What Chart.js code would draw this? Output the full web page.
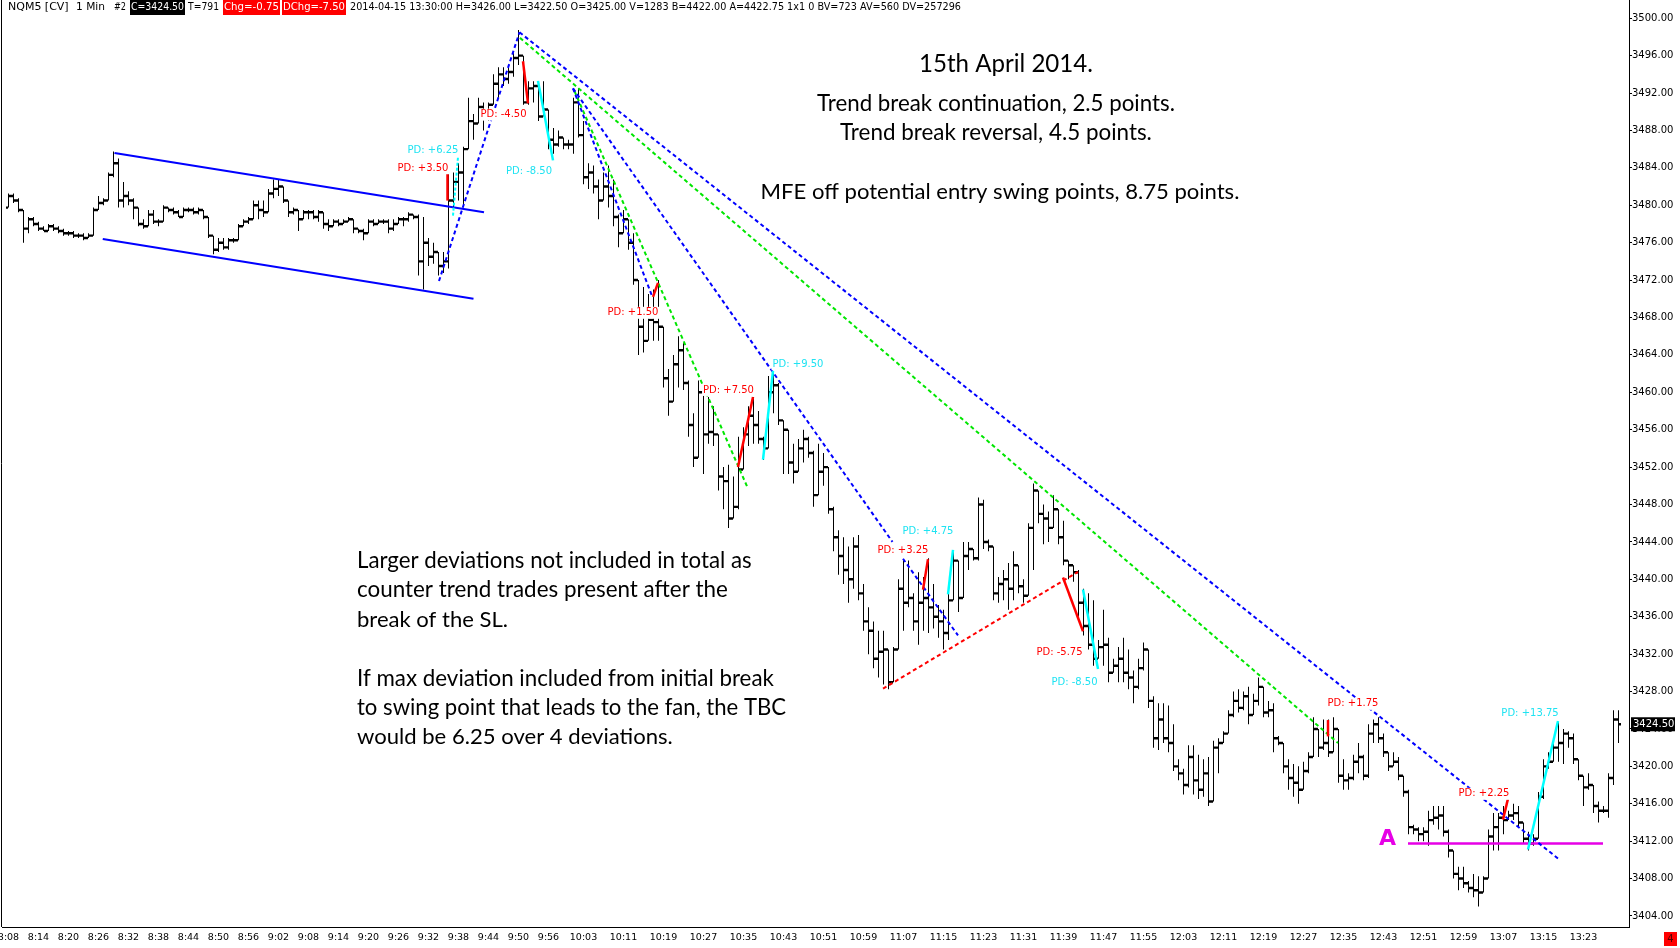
<!DOCTYPE html>
<html>
<head>
<meta charset="utf-8">
<title>NQM5 [CV] 1 Min</title>
<script src="https://cdn.jsdelivr.net/npm/chart.js"></script>
<style>
  html, body { margin: 0; padding: 0; background: #fff; }
  #wrap { position: relative; width: 1680px; height: 948px; }
</style>
</head>
<body>
<div id="wrap"><canvas id="nqChart"></canvas></div>
<script>
// one bar per minute, starting 8:08
var startTime = '8:08';

var opens = [
  3479.75, 3481, 3480.5, 3479.5, 3477.5, 3478.5, 3478, 3477.5, 3477.25, 3477.75,
  3477.5, 3477.25, 3477, 3477, 3476.75, 3476.75, 3476.5, 3476.75, 3479.5, 3480.25,
  3480.5, 3483.25, 3484.5, 3480.5, 3481, 3480.5, 3479.75, 3478, 3477.75, 3479,
  3478.25, 3478.25, 3479.75, 3479.5, 3479.25, 3478.75, 3479.5, 3479.5, 3479.25, 3479.5,
  3478.75, 3476.75, 3475.25, 3476, 3475.5, 3476.25, 3476.25, 3477.75, 3478.25, 3478.5,
  3480, 3479.5, 3479.25, 3481.25, 3481.75, 3482, 3480.5, 3479.25, 3479.5, 3478.5,
  3479.25, 3479.25, 3478.75, 3479.25, 3478, 3477.75, 3478.25, 3478, 3478.25, 3478.5,
  3477.5, 3477.25, 3477, 3478.25, 3478, 3478.25, 3478.25, 3477.5, 3478, 3478.5,
  3478.5, 3479, 3478.75, 3474, 3476, 3474.5, 3475, 3473.5, 3474, 3480.5,
  3482.5, 3483.5, 3486, 3489, 3488.75, 3490.5, 3489.5, 3490.75, 3493, 3494,
  3493.5, 3494.25, 3495.75, 3496, 3491, 3492.5, 3492.75, 3489.5, 3490.25, 3487,
  3486.5, 3487.25, 3486.5, 3486.5, 3491, 3487.5, 3483, 3483.5, 3482, 3480.5,
  3482, 3481, 3478.75, 3477, 3478.5, 3476, 3472, 3467, 3465.5, 3467.75,
  3467.5, 3467, 3461.5, 3459, 3463, 3464.5, 3461, 3456.5, 3453, 3460,
  3455.5, 3455.75, 3455.5, 3451, 3450.5, 3446.5, 3447.75, 3451.75, 3455.5, 3457.5,
  3456.5, 3455, 3454, 3460, 3460.75, 3457, 3456, 3452.5, 3451.5, 3454,
  3455, 3453.5, 3449, 3451.5, 3452, 3447.5, 3444.5, 3442.5, 3441, 3440,
  3443.5, 3438.5, 3435.5, 3434.5, 3431.5, 3432.25, 3432.5, 3429, 3432.5, 3439,
  3437.5, 3438, 3435.5, 3437.5, 3438, 3437, 3436, 3435.5, 3434.25, 3437.75,
  3442, 3438, 3442.5, 3443.25, 3442.25, 3448, 3444, 3443.5, 3438.5, 3439.5,
  3440, 3439, 3441.5, 3439.25, 3438.25, 3445.5, 3449.5, 3447, 3446.5, 3445.5,
  3447.5, 3444.5, 3442, 3441.5, 3440.75, 3437.5, 3435, 3433, 3431.5, 3432.75,
  3433, 3430, 3430.75, 3431.5, 3430, 3429.5, 3428.5, 3430.5, 3432.5, 3427,
  3423, 3425, 3423, 3422.5, 3420, 3419.25, 3418, 3421, 3418.5, 3417.5,
  3419.25, 3416.25, 3422, 3422.5, 3423.5, 3425.5, 3427, 3426.25, 3427.5, 3425.5,
  3427, 3428.5, 3425.75, 3426, 3423, 3422.5, 3420, 3418.75, 3418.25, 3417.5,
  3419.5, 3421, 3424, 3422, 3422.5, 3421.5, 3424, 3419, 3418.5, 3418.75,
  3420.5, 3421, 3419, 3423.5, 3424.5, 3423, 3421.5, 3420, 3420.5, 3419,
  3417.25, 3413.5, 3413.25, 3412.75, 3413, 3414.25, 3414.5, 3414.75, 3413, 3411,
  3408.5, 3408, 3407.5, 3407, 3406.75, 3406.5, 3408, 3412.5, 3413.5, 3414.5,
  3414.25, 3414.75, 3415, 3414, 3412.25, 3411.75, 3412.25, 3416.75, 3420, 3420.5,
  3422, 3422.5, 3423.5, 3423, 3420.75, 3419, 3417.75, 3418, 3415.75, 3415.25,
  3415.25, 3418.75, 3425
];

var highs = [
  3481.25, 3481.25, 3480.75, 3479.5, 3478.75, 3478.75, 3478.25, 3477.75, 3478, 3478,
  3477.75, 3477.5, 3477.25, 3477.25, 3477, 3477, 3477, 3479.75, 3481, 3480.75,
  3483.5, 3485.75, 3485, 3482.5, 3481.5, 3480.75, 3479.75, 3478.5, 3479.5, 3479.5,
  3478.5, 3480, 3479.75, 3479.75, 3479.5, 3479.75, 3479.75, 3479.75, 3479.75, 3479.5,
  3478.75, 3476.75, 3476.5, 3476.5, 3476.5, 3476.5, 3478, 3478.5, 3478.75, 3480.5,
  3480.5, 3480.5, 3481.75, 3482.75, 3482.75, 3482, 3480.5, 3479.75, 3479.5, 3479.5,
  3479.5, 3479.5, 3479.5, 3479.25, 3478.5, 3478.5, 3478.5, 3478.5, 3478.75, 3478.5,
  3477.5, 3477.5, 3478.5, 3478.5, 3478.5, 3478.5, 3478.5, 3478.5, 3478.75, 3478.75,
  3479.25, 3479, 3479, 3478.75, 3476.5, 3476, 3475, 3475, 3484, 3483.5,
  3484.5, 3486.25, 3491.5, 3489.75, 3491.5, 3491, 3491, 3494, 3494.75, 3494.75,
  3494.75, 3496.25, 3498.75, 3496, 3493.25, 3493.25, 3493.25, 3493.25, 3490.25, 3488.25,
  3488, 3487.25, 3487, 3491.5, 3492.5, 3489, 3484.5, 3484.25, 3482.75, 3483.5,
  3484.25, 3482.75, 3479, 3479.5, 3478.5, 3477, 3472, 3471.25, 3470.5, 3471,
  3472, 3467, 3462.5, 3464, 3466, 3465.25, 3461.25, 3457.75, 3461.25, 3460,
  3459.5, 3458.5, 3455.5, 3452, 3452.25, 3451, 3455.25, 3456.25, 3458.5, 3459.5,
  3458, 3455.25, 3461.75, 3462.25, 3461, 3457, 3456, 3454.5, 3455, 3456,
  3455.25, 3453.75, 3454.5, 3453.5, 3452, 3447.75, 3445.25, 3444.5, 3443.5, 3444.5,
  3444.75, 3439.5, 3437, 3435.5, 3434.5, 3434.5, 3432.5, 3432.75, 3440, 3442,
  3442, 3438.5, 3440.75, 3440.25, 3442.25, 3439.5, 3437.25, 3436.75, 3438.5, 3443,
  3442, 3444, 3444, 3443.25, 3448.75, 3448.5, 3444.25, 3443.5, 3440.25, 3441,
  3441.75, 3443, 3441.5, 3440, 3446, 3450.25, 3449.5, 3448, 3447.25, 3449,
  3447.5, 3446.25, 3442, 3441.5, 3441, 3439, 3438.5, 3437.75, 3433.5, 3436.75,
  3433.75, 3431.5, 3432.75, 3433.75, 3432.5, 3430.25, 3431.5, 3433.25, 3432.5, 3427.5,
  3426.75, 3426.75, 3426.5, 3424.5, 3420.75, 3419.75, 3422.25, 3422.25, 3421.25, 3420.75,
  3421, 3422.75, 3423, 3423.75, 3426, 3428, 3428.25, 3428, 3428.5, 3427.75,
  3429.5, 3428.5, 3427, 3426.75, 3423.25, 3422.5, 3420.75, 3420.25, 3420, 3420.5,
  3421.5, 3425.25, 3424, 3425, 3425, 3425.25, 3424, 3420.75, 3419.25, 3421.25,
  3422.5, 3421.25, 3424.5, 3425, 3425.25, 3423.5, 3421.5, 3421.5, 3421, 3419,
  3417.5, 3413.75, 3413.5, 3413.5, 3415.25, 3415.75, 3415.75, 3415.75, 3413.25, 3411,
  3409.25, 3409.25, 3407.75, 3408.5, 3408.25, 3408.25, 3413.25, 3415, 3415, 3415.75,
  3415.25, 3416, 3415.75, 3414, 3413, 3412.75, 3417.25, 3420.75, 3421.5, 3422.75,
  3424.75, 3424, 3423.75, 3423.5, 3420.75, 3419, 3419.25, 3418, 3416.25, 3415.75,
  3419.25, 3426, 3426
];

var lows = [
  3479.75, 3480.25, 3479.25, 3476, 3477, 3477.75, 3477.25, 3477.25, 3477.25, 3477.25,
  3477, 3476.75, 3476.75, 3476.5, 3476.5, 3476.25, 3476.5, 3476.75, 3479.5, 3480,
  3480.5, 3483, 3479.75, 3479.75, 3480, 3478.5, 3477.75, 3477.5, 3477.75, 3478,
  3477.75, 3478.25, 3479.25, 3479, 3478.75, 3478.75, 3479.25, 3479, 3479, 3478.5,
  3476.5, 3474.75, 3475, 3475.25, 3475.25, 3476, 3476.25, 3477.75, 3478, 3478.5,
  3478.5, 3478.75, 3479.25, 3480.75, 3481, 3480.25, 3478.75, 3479, 3477.25, 3478.5,
  3478.5, 3478.5, 3478.25, 3477.5, 3477.25, 3477.75, 3477.75, 3478, 3478.25, 3477,
  3477, 3476.25, 3477, 3477.75, 3478, 3478, 3477, 3477.25, 3478, 3477.75,
  3478.25, 3478.5, 3472.5, 3471, 3473.5, 3473.75, 3472.5, 3472.75, 3473.25, 3479.5,
  3480.5, 3480, 3486, 3487, 3488.75, 3488, 3489, 3490.75, 3491.5, 3492.75,
  3493, 3493.75, 3495, 3490.75, 3490.75, 3491, 3489, 3489.5, 3486, 3485.5,
  3486.25, 3486, 3486, 3485.5, 3487.25, 3482.25, 3481.75, 3481.25, 3478.5, 3480.5,
  3479.75, 3477.75, 3475.5, 3477, 3475.25, 3471.5, 3464, 3464.25, 3465.5, 3465.5,
  3465.5, 3460.5, 3457.5, 3459, 3460.5, 3460.25, 3455.25, 3452, 3453, 3451.25,
  3454.5, 3454.25, 3449.5, 3447.5, 3445.5, 3446.5, 3447.5, 3451.75, 3454.25, 3454.5,
  3454.5, 3452.75, 3454, 3457.75, 3456.5, 3451.25, 3451.25, 3450.25, 3451.5, 3452.5,
  3453, 3447.75, 3449, 3450, 3447, 3443, 3440.5, 3439.5, 3437.5, 3439,
  3437.75, 3434.5, 3432, 3430.5, 3429.5, 3428.75, 3428.25, 3429, 3432.5, 3434.5,
  3437, 3434.5, 3433, 3434.5, 3434.25, 3434.75, 3433.75, 3432.5, 3433.5, 3437.75,
  3436.5, 3438, 3441, 3442, 3442, 3443.25, 3443, 3437.75, 3437.5, 3437.75,
  3436.75, 3437.75, 3438.5, 3437.5, 3438.25, 3441, 3446, 3443.75, 3444, 3445.5,
  3443.75, 3441.5, 3440, 3439.75, 3436, 3434, 3432.5, 3430.75, 3431.5, 3430.75,
  3429, 3430, 3429, 3429, 3428.25, 3426.75, 3428.25, 3430.25, 3426.25, 3422,
  3421.75, 3422.5, 3421.5, 3419.5, 3418.5, 3417, 3417.75, 3417, 3416.5, 3416.75,
  3415.75, 3416.25, 3419.25, 3422.5, 3423.5, 3425.25, 3425.75, 3426, 3424.5, 3425.5,
  3426.5, 3425.25, 3425.25, 3421.5, 3422.25, 3419.25, 3417.5, 3416.75, 3416, 3417.5,
  3419.25, 3421, 3421, 3421.75, 3421, 3421.5, 3418.25, 3417.5, 3417.5, 3418.5,
  3419.25, 3418.5, 3418.75, 3422.5, 3422.5, 3421, 3419.5, 3420, 3418.5, 3416.75,
  3412.75, 3412.75, 3412, 3412, 3411.5, 3413.75, 3413.25, 3412.5, 3410.25, 3408,
  3406.75, 3407, 3406.5, 3406, 3405, 3406.5, 3408, 3411, 3411, 3412.75,
  3414.25, 3414.25, 3413.5, 3411.75, 3411, 3411.5, 3412.25, 3416.5, 3419.75, 3420.5,
  3420.5, 3420.25, 3422, 3420.25, 3418.5, 3415.75, 3417.5, 3415, 3414, 3415,
  3414.5, 3418, 3422.5
];

var closes = [
  3481, 3480.5, 3479.5, 3477.5, 3478.5, 3478, 3477.5, 3477.25, 3477.75, 3477.5,
  3477.25, 3477, 3477, 3476.75, 3476.75, 3476.5, 3476.75, 3479.5, 3480.25, 3480.5,
  3483.25, 3484.5, 3480.5, 3481, 3480.5, 3479.75, 3478, 3477.75, 3479, 3478.25,
  3478.25, 3479.75, 3479.5, 3479.25, 3478.75, 3479.5, 3479.5, 3479.25, 3479.5, 3478.75,
  3476.75, 3475.25, 3476, 3475.5, 3476.25, 3476.25, 3477.75, 3478.25, 3478.5, 3480,
  3479.5, 3479.25, 3481.25, 3481.75, 3482, 3480.5, 3479.25, 3479.5, 3478.5, 3479.25,
  3479.25, 3478.75, 3479.25, 3478, 3477.75, 3478.25, 3478, 3478.25, 3478.5, 3477.5,
  3477.25, 3477, 3478.25, 3478, 3478.25, 3478.25, 3477.5, 3478, 3478.5, 3478.5,
  3479, 3478.75, 3474, 3476, 3474.5, 3475, 3473.5, 3474, 3480.5, 3482.5,
  3483.5, 3486, 3489, 3488.75, 3490.5, 3489.5, 3490.75, 3493, 3494, 3493.5,
  3494.25, 3495.75, 3496, 3491, 3492.5, 3492.75, 3489.5, 3490.25, 3487, 3486.5,
  3487.25, 3486.5, 3486.5, 3491, 3487.5, 3483, 3483.5, 3482, 3480.5, 3482,
  3481, 3478.75, 3477, 3478.5, 3476, 3472, 3467, 3465.5, 3467.75, 3467.5,
  3467, 3461.5, 3459, 3463, 3464.5, 3461, 3456.5, 3453, 3460, 3455.5,
  3455.75, 3455.5, 3451, 3450.5, 3446.5, 3447.75, 3451.75, 3455.5, 3457.5, 3456.5,
  3455, 3454, 3460, 3460.75, 3457, 3456, 3452.5, 3451.5, 3454, 3455,
  3453.5, 3449, 3451.5, 3452, 3447.5, 3444.5, 3442.5, 3441, 3440, 3443.5,
  3438.5, 3435.5, 3434.5, 3431.5, 3432.25, 3432.5, 3429, 3432.5, 3439, 3437.5,
  3438, 3435.5, 3437.5, 3438, 3437, 3436, 3435.5, 3434.25, 3437.75, 3442,
  3438, 3442.5, 3443.25, 3442.25, 3448, 3444, 3443.5, 3438.5, 3439.5, 3440,
  3439, 3441.5, 3439.25, 3438.25, 3445.5, 3449.5, 3447, 3446.5, 3445.5, 3447.5,
  3444.5, 3442, 3441.5, 3440.75, 3437.5, 3435, 3433, 3431.5, 3432.75, 3433,
  3430, 3430.75, 3431.5, 3430, 3429.5, 3428.5, 3430.5, 3432.5, 3427, 3423,
  3425, 3423, 3422.5, 3420, 3419.25, 3418, 3421, 3418.5, 3417.5, 3419.25,
  3416.25, 3422, 3422.5, 3423.5, 3425.5, 3427, 3426.25, 3427.5, 3425.5, 3427,
  3428.5, 3425.75, 3426, 3423, 3422.5, 3420, 3418.75, 3418.25, 3417.5, 3419.5,
  3421, 3424, 3422, 3422.5, 3421.5, 3424, 3419, 3418.5, 3418.75, 3420.5,
  3421, 3419, 3423.5, 3424.5, 3423, 3421.5, 3420, 3420.5, 3419, 3417.25,
  3413.5, 3413.25, 3412.75, 3413, 3414.25, 3414.5, 3414.75, 3413, 3411, 3408.5,
  3408, 3407.5, 3407, 3406.75, 3406.5, 3408, 3412.5, 3413.5, 3414.5, 3414.25,
  3414.75, 3415, 3414, 3412.25, 3411.75, 3412.25, 3416.75, 3420, 3420.5, 3422,
  3422.5, 3423.5, 3423, 3420.75, 3419, 3417.75, 3418, 3415.75, 3415.25, 3415.25,
  3418.75, 3425, 3424.5
];

var priceTicks = [3404, 3408, 3412, 3416, 3420, 3424, 3428, 3432, 3436, 3440, 3444, 3448, 3452,
                  3456, 3460, 3464, 3468, 3472, 3476, 3480, 3484, 3488, 3492, 3496, 3500];

var timeLabels = ['8:08', '8:14', '8:20', '8:26', '8:32', '8:38', '8:44', '8:50', '8:56', '9:02',
                  '9:08', '9:14', '9:20', '9:26', '9:32', '9:38', '9:44', '9:50', '9:56', '10:03',
                  '10:11', '10:19', '10:27', '10:35', '10:43', '10:51', '10:59', '11:07', '11:15', '11:23',
                  '11:31', '11:39', '11:47', '11:55', '12:03', '12:11', '12:19', '12:27', '12:35', '12:43',
                  '12:51', '12:59', '13:07', '13:15', '13:23'];

// drawn lines, [bar index, price]
var trendLines = [
    { kind: 'channel', from: [21.2, 3485.6],   to: [95.1, 3479.25] },
    { kind: 'channel', from: [18.85, 3476.4],  to: [93.0, 3470.0] },
    { kind: 'blue',    from: [86.1, 3471.9],   to: [102.2, 3498.5] },
    { kind: 'blue',    from: [102.2, 3498.5],  to: [309.9, 3410.15] },
    { kind: 'green',   from: [102.3, 3497.9],  to: [265.9, 3422.5] },
    { kind: 'blue',    from: [112.9, 3492.5],  to: [128.7, 3470.3] },
    { kind: 'blue',    from: [112.9, 3492.5],  to: [176.8, 3444.0] },
    { kind: 'green',   from: [113.2, 3492.2],  to: [147.9, 3449.7] },
    { kind: 'blue',    from: [178.9, 3442.2],  to: [189.9, 3434.0] },
    { kind: 'red',     from: [174.9, 3428.3],  to: [213.9, 3440.8] },
    { kind: 'level',   from: [279.9, 3411.75], to: [318.9, 3411.75] }
];

var pdMarks = [
    { text: 'PD: +3.50',  tone: 'red',  from: [87.8, 3480.5],  to: [87.8, 3484.0],   label: [82.9, 3483.96] },
    { text: 'PD: +6.25',  tone: 'cyan', from: [88.9, 3478.9],  to: [89.9, 3485.15],  label: [84.9, 3485.91], dashed: true },
    { text: 'PD: -4.50',  tone: 'red',  from: [102.9, 3495.4], to: [103.9, 3490.9],  label: [99.0, 3489.69] },
    { text: 'PD: -8.50',  tone: 'cyan', from: [105.9, 3493.3], to: [108.9, 3484.8],  label: [104.1, 3483.62] },
    { text: 'PD: +1.50',  tone: 'red',  from: [128.9, 3470.2], to: [129.9, 3471.7],  label: [124.9, 3468.5] },
    { text: 'PD: +7.50',  tone: 'red',  from: [145.9, 3452.0], to: [148.9, 3459.5],  label: [144.0, 3460.25] },
    { text: 'PD: +9.50',  tone: 'cyan', from: [150.9, 3452.8], to: [152.9, 3462.3],  label: [157.9, 3463.0] },
    { text: 'PD: +3.25',  tone: 'red',  from: [182.9, 3438.9], to: [183.9, 3442.15], label: [178.9, 3443.06] },
    { text: 'PD: +4.75',  tone: 'cyan', from: [187.9, 3438.4], to: [188.9, 3443.15], label: [183.9, 3445.13] },
    { text: 'PD: -5.75',  tone: 'red',  from: [210.9, 3440.2], to: [214.9, 3434.45], label: [210.2, 3432.18] },
    { text: 'PD: -8.50',  tone: 'cyan', from: [214.9, 3438.9], to: [217.9, 3430.4],  label: [213.2, 3428.97] },
    { text: 'PD: +1.75',  tone: 'red',  from: [263.9, 3423.2], to: [263.9, 3424.95], label: [268.9, 3426.68] },
    { text: 'PD: +2.25',  tone: 'red',  from: [298.9, 3414.3], to: [299.9, 3416.55], label: [295.1, 3417.06] },
    { text: 'PD: +13.75', tone: 'cyan', from: [303.9, 3411.1], to: [309.9, 3424.85], label: [304.3, 3425.65] }
];

var levelTag = { text: 'A', at: [275.8, 3412.2] };

var headerParts = [
    { text: 'NQM5 [CV]', x: 8,   w: 62 },
    { text: '1 Min',     x: 76,  w: 29 },
    { text: '#2',        x: 114, w: 12 },
    { text: 'C=3424.50', x: 130, w: 55, bg: '#000000' },
    { text: 'T=791',     x: 188, w: 31 },
    { text: 'Chg=-0.75', x: 223, w: 57, bg: '#ff0000' },
    { text: 'DChg=-7.50', x: 282, w: 64, bg: '#ff0000' },
    { text: '2014-04-15 13:30:00 H=3426.00 L=3422.50 O=3425.00 V=1283 B=4422.00 A=4422.75 1x1 0 BV=723 AV=560 DV=257296', x: 350, w: 611 }
];

var notes = [
    { text: '15th April 2014.', x: 1006, y: 64, w: 174, align: 'center' },
    { text: 'Trend break continuation, 2.5 points.', x: 996, y: 104, w: 358, align: 'center' },
    { text: 'Trend break reversal, 4.5 points.', x: 996, y: 133, w: 312, align: 'center' },
    { text: 'MFE off potential entry swing points, 8.75 points.', x: 1000, y: 192, w: 479, align: 'center' },
    { text: 'Larger deviations not included in total as', x: 357, y: 561, w: 395, align: 'left' },
    { text: 'counter trend trades present after the', x: 357, y: 590, w: 371, align: 'left' },
    { text: 'break of the SL.', x: 357, y: 620, w: 151, align: 'left' },
    { text: 'If max deviation included from initial break', x: 357, y: 679, w: 417, align: 'left' },
    { text: 'to swing point that leads to the fan, the TBC', x: 357, y: 708, w: 429, align: 'left' },
    { text: 'would be 6.25 over 4 deviations.', x: 357, y: 737, w: 316, align: 'left' }
];

var lineStyles = {
    channel: { color: '#0000ff', width: 2,   dash: [] },
    blue:    { color: '#0000ff', width: 2,   dash: [4, 3] },
    green:   { color: '#00e600', width: 2,   dash: [4, 3] },
    red:     { color: '#ff0000', width: 2,   dash: [4, 3] },
    level:   { color: '#e600e6', width: 2.5, dash: [] }
};
var toneColors = { red: '#ff0000', cyan: '#00ffff' };
var toneText = { red: '#ff0000', cyan: '#1fe3f2' };

var smallFont = '"DejaVu Sans", Verdana, sans-serif';
var noteFont = 'Lato, "Open Sans", sans-serif';

function minuteIndex(label) {
    var p = label.split(':');
    var s = startTime.split(':');
    return (+p[0] * 60 + +p[1]) - (+s[0] * 60 + +s[1]);
}

function pt(a) { return { x: a[0], y: a[1] }; }

var datasets = [];

pdMarks.forEach(function (m) {
    datasets.push({
        type: 'line', data: [pt(m.from), pt(m.to)],
        borderColor: toneColors[m.tone], borderWidth: m.dashed ? 2 : 2.5,
        borderDash: m.dashed ? [3, 2] : [], pointRadius: 0, fill: false, order: 0
    });
});

trendLines.forEach(function (t) {
    var st = lineStyles[t.kind];
    datasets.push({
        type: 'line', data: [pt(t.from), pt(t.to)],
        borderColor: st.color, borderWidth: st.width, borderDash: st.dash,
        pointRadius: 0, fill: false, order: 1
    });
});

datasets.push({
    type: 'bar',
    data: highs.map(function (h, i) { return { x: i, y: [lows[i], h] }; }),
    backgroundColor: '#000', borderWidth: 0, barThickness: 1,
    grouped: false, inflateAmount: 0, order: 5
});
datasets.push({
    type: 'bar',
    data: opens.map(function (o, i) { return { x: i - 0.3, y: [o - 0.13, o + 0.13] }; }),
    backgroundColor: '#000', borderWidth: 0, barThickness: 2,
    grouped: false, inflateAmount: 0, order: 5
});
datasets.push({
    type: 'bar',
    data: closes.map(function (c, i) { return { x: i + 0.3, y: [c - 0.13, c + 0.13] }; }),
    backgroundColor: '#000', borderWidth: 0, barThickness: 2,
    grouped: false, inflateAmount: 0, order: 5
});

function fitText(ctx, text, x, y, w, align) {
    var nat = ctx.measureText(text).width;
    var sx = nat > w ? w / nat : 1;
    ctx.save();
    ctx.translate(x, y);
    ctx.scale(sx, 1);
    ctx.textAlign = align || 'left';
    ctx.fillText(text, 0, 0);
    ctx.restore();
}

var overlay = {
    id: 'overlay',
    afterDatasetsDraw: function (chart) {
        var ctx = chart.ctx, xs = chart.scales.x, ys = chart.scales.y;
        ctx.save();
        ctx.font = '10px ' + smallFont;
        ctx.textBaseline = 'middle';
        ctx.textAlign = 'center';
        pdMarks.forEach(function (m) {
            var px = xs.getPixelForValue(m.label[0]);
            var py = ys.getPixelForValue(m.label[1]);
            var w = ctx.measureText(m.text).width;
            ctx.fillStyle = '#fff';
            ctx.fillRect(px - w / 2 - 1, py - 6, w + 2, 12);
            ctx.fillStyle = toneText[m.tone];
            ctx.fillText(m.text, px, py);
        });
        ctx.font = 'bold 22px ' + smallFont;
        ctx.fillStyle = lineStyles.level.color;
        ctx.fillText(levelTag.text, xs.getPixelForValue(levelTag.at[0]), ys.getPixelForValue(levelTag.at[1]));
        ctx.restore();
    },
    afterDraw: function (chart) {
        var ctx = chart.ctx, area = chart.chartArea, ys = chart.scales.y;
        ctx.save();
        // left frame edge
        ctx.strokeStyle = '#000';
        ctx.lineWidth = 1;
        ctx.beginPath();
        ctx.moveTo(area.left - 0.5, 0);
        ctx.lineTo(area.left - 0.5, area.bottom);
        ctx.stroke();

        // header line
        ctx.font = '11px ' + smallFont;
        ctx.textBaseline = 'middle';
        headerParts.forEach(function (h) {
            if (h.bg) {
                ctx.fillStyle = h.bg;
                ctx.fillRect(h.x, 0, h.w, 15);
                ctx.fillStyle = '#fff';
                fitText(ctx, h.text, h.x + 1, 7.5, h.w - 2);
            } else {
                ctx.fillStyle = '#000';
                fitText(ctx, h.text, h.x, 7.5, h.w);
            }
        });

        // comment text
        ctx.fillStyle = '#000';
        notes.forEach(function (n) {
            ctx.font = '20px ' + noteFont;
            var size = 20 * n.w / ctx.measureText(n.text).width;
            ctx.font = size.toFixed(2) + 'px ' + noteFont;
            ctx.textAlign = n.align;
            ctx.fillText(n.text, n.x, n.y);
        });

        // last price tag
        var last = closes[closes.length - 1];
        var ty = ys.getPixelForValue(last);
        ctx.fillStyle = '#000';
        ctx.fillRect(area.right + 2, ty - 7, 44, 14);
        ctx.fillStyle = '#fff';
        ctx.font = '10px ' + smallFont;
        ctx.textAlign = 'left';
        ctx.fillText(last.toFixed(2), area.right + 4, ty + 0.5);

        // corner marker
        ctx.fillStyle = '#ff0000';
        ctx.fillRect(1664, 932, 13, 14);
        ctx.fillStyle = '#500000';
        ctx.textAlign = 'center';
        ctx.fillText('4', 1670.5, 939.5);
        ctx.restore();
    }
};

new Chart(document.getElementById('nqChart'), {
    type: 'bar',
    data: { datasets: datasets },
    options: {
        responsive: true,
        maintainAspectRatio: false,
        animation: false,
        events: [],
        layout: { padding: { left: 2, right: 0, top: 0, bottom: 0 } },
        plugins: { legend: { display: false }, tooltip: { enabled: false } },
        scales: {
            x: {
                type: 'linear', min: -1.3, max: 324.1, offset: false,
                grid: { display: false, drawTicks: false },
                border: { display: true, color: '#000', width: 1 },
                afterBuildTicks: function (s) {
                    s.ticks = timeLabels.map(function (t) { return { value: minuteIndex(t) }; });
                },
                ticks: {
                    autoSkip: false, maxRotation: 0, minRotation: 0, padding: 5, color: '#000',
                    font: { family: smallFont, size: 9.5 },
                    callback: function (v, i) { return timeLabels[i]; }
                },
                afterFit: function (s) { s.height = 21; s.paddingLeft = 0; s.paddingRight = 0; }
            },
            y: {
                position: 'right', min: 3402.82, max: 3501.95,
                grid: { display: true, drawOnChartArea: false, drawTicks: true, tickLength: 3, color: '#000' },
                border: { display: true, color: '#000', width: 1 },
                afterBuildTicks: function (s) {
                    s.ticks = priceTicks.map(function (v) { return { value: v }; });
                },
                ticks: {
                    padding: 0, color: '#000',
                    font: { family: smallFont, size: 10 },
                    callback: function (v) { return v.toFixed(2); }
                },
                afterFit: function (s) { s.width = 51; s.paddingTop = 0; s.paddingBottom = 0; }
            }
        }
    },
    plugins: [overlay]
});
</script>
</body>
</html>
